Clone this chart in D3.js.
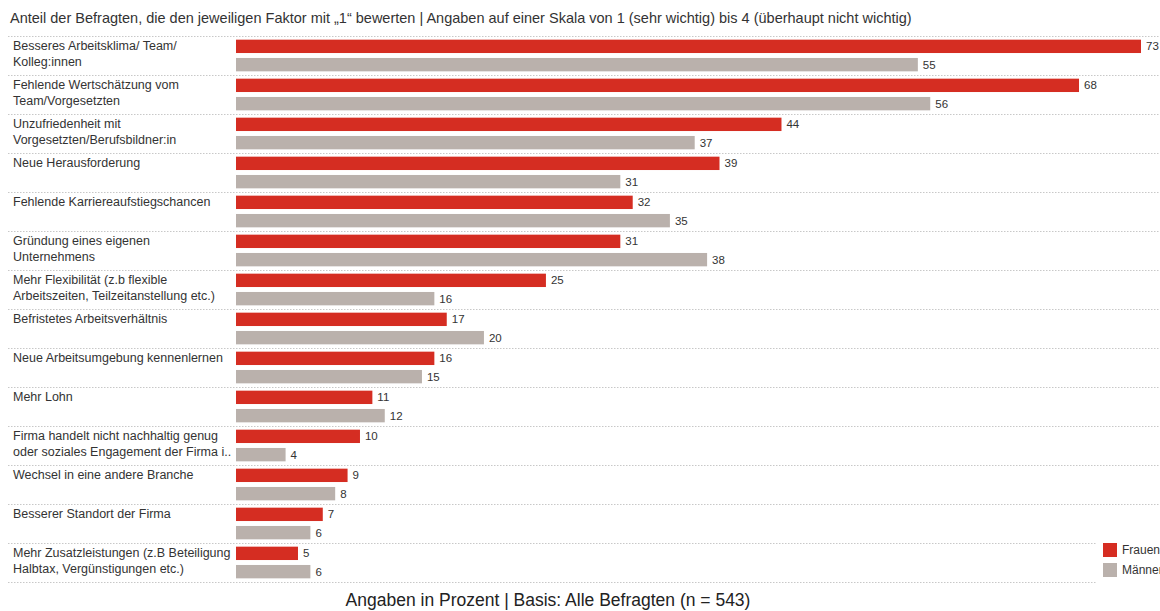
<!DOCTYPE html>
<html lang="de">
<head>
<meta charset="UTF-8">
<title>Kündigungsgründe</title>
<script src="https://d3js.org/d3.v7.min.js"></script>
<style>
  body { margin: 0; background: #fff; }
  svg { display: block; font-family: "Liberation Sans", Arial, sans-serif; }
  .sep { stroke: #c8c8c8; stroke-dasharray: 1.5,1.5; stroke-width: 1; }
  .cat { font-size: 12.5px; fill: #333; }
  .val { font-size: 11.5px; fill: #333; }
</style>
</head>
<body>
<svg width="1160" height="611"></svg>
<script>
// categories (each label split into its lines)
const categories = [
  ["Besseres Arbeitsklima/ Team/", "Kolleg:innen"],
  ["Fehlende Wertschätzung vom", "Team/Vorgesetzten"],
  ["Unzufriedenheit mit", "Vorgesetzten/Berufsbildner:in"],
  ["Neue Herausforderung"],
  ["Fehlende Karriereaufstiegschancen"],
  ["Gründung eines eigenen", "Unternehmens"],
  ["Mehr Flexibilität (z.b flexible", "Arbeitszeiten, Teilzeitanstellung etc.)"],
  ["Befristetes Arbeitsverhältnis"],
  ["Neue Arbeitsumgebung kennenlernen"],
  ["Mehr Lohn"],
  ["Firma handelt nicht nachhaltig genug", "oder soziales Engagement der Firma i.."],
  ["Wechsel in eine andere Branche"],
  ["Besserer Standort der Firma"],
  ["Mehr Zusatzleistungen (z.B Beteiligung", "Halbtax, Vergünstigungen etc.)"]
];
const frauen = [73, 68, 44, 39, 32, 31, 25, 17, 16, 11, 10, 9, 7, 5];
const maenner = [55, 56, 37, 31, 35, 38, 16, 20, 15, 12, 4, 8, 6, 6];
const seriesNames = ["Frauen", "Männer"];
const colors = ["#d52d22", "#bab1ac"];

const title = "Anteil der Befragten, die den jeweiligen Faktor mit „1“ bewerten | Angaben auf einer Skala von 1 (sehr wichtig) bis 4 (überhaupt nicht wichtig)";
const caption = "Angaben in Prozent | Basis: Alle Befragten (n = 543)";

const svg = d3.select("svg");

const plotLeft = 236, plotTop = 36, rowH = 39;

const x = d3.scaleLinear().domain([0, 73]).range([plotLeft, 1141]);
const y = d3.scaleBand().domain(d3.range(categories.length))
  .range([plotTop, plotTop + rowH * categories.length]).padding(0);
const inner = d3.scaleBand().domain([0, 1]).range([0, rowH]).paddingInner(0.27).paddingOuter(0.2);

svg.append("text")
  .attr("x", 10).attr("y", 23)
  .attr("font-size", 14.5).attr("fill", "#333")
  .text(title);

// separators
const seps = d3.range(categories.length + 1);
svg.selectAll("line.sep").data(seps).join("line")
  .attr("class", "sep")
  .attr("x1", 8).attr("x2", 1160)
  .attr("y1", d => Math.round(plotTop + d * rowH) + 0.5)
  .attr("y2", d => Math.round(plotTop + d * rowH) + 0.5);

const rows = svg.selectAll("g.row").data(categories).join("g")
  .attr("class", "row")
  .attr("transform", (d, i) => `translate(0,${y(i)})`);

rows.append("text")
  .attr("class", "cat")
  .selectAll("tspan").data(d => d).join("tspan")
  .attr("x", 13)
  .attr("y", (d, i) => 14 + i * 16)
  .text(d => d);

const data = [frauen, maenner];
data.forEach((vals, s) => {
  rows.append("rect")
    .attr("x", plotLeft)
    .attr("y", inner(s))
    .attr("width", (d, i) => x(vals[i]) - plotLeft)
    .attr("height", inner.bandwidth())
    .attr("fill", colors[s]);
  rows.append("text")
    .attr("class", "val")
    .attr("x", (d, i) => x(vals[i]) + 5)
    .attr("y", inner(s) + inner.bandwidth() / 2 + 4)
    .text((d, i) => vals[i]);
});

// legend
const legend = svg.append("g");
legend.append("rect").attr("x", 1096).attr("y", 530).attr("width", 64).attr("height", 60).attr("fill", "#fff");
seriesNames.forEach((n, i) => {
  legend.append("rect")
    .attr("x", 1103).attr("y", 543 + i * 20)
    .attr("width", 14).attr("height", 14)
    .attr("fill", colors[i]);
  legend.append("text")
    .attr("x", 1122).attr("y", 554 + i * 20)
    .attr("font-size", 12).attr("fill", "#333")
    .text(n);
});

svg.append("text")
  .attr("x", 548).attr("y", 606)
  .attr("text-anchor", "middle")
  .attr("font-size", 17.5).attr("fill", "#222")
  .text(caption);
</script>
</body>
</html>
